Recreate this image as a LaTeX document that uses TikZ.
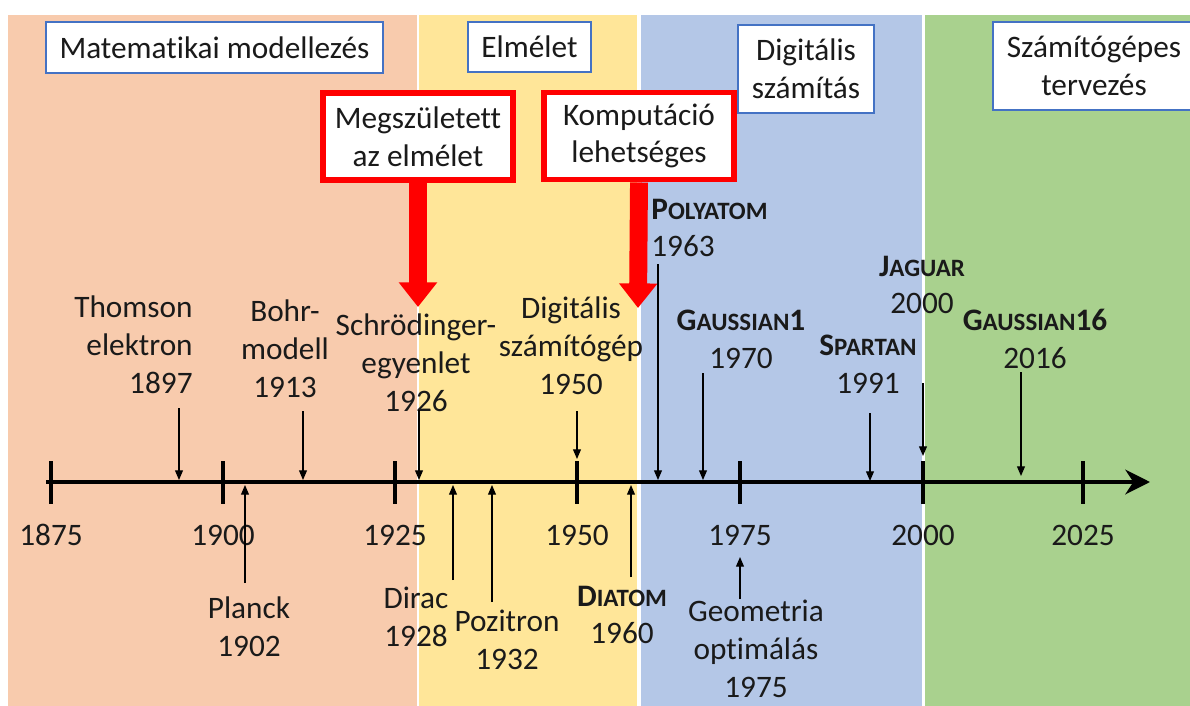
\documentclass[tikz,border=0pt]{standalone}
\usepackage{fontspec}
\setmainfont{Carlito}[Ligatures={NoCommon}]
\usetikzlibrary{positioning, arrows.meta}
\definecolor{pSalmon}{HTML}{F8CBAD}
\definecolor{pYellow}{HTML}{FFE699}
\definecolor{pBlue}{HTML}{B4C7E7}
\definecolor{pGreen}{HTML}{A9D18E}
\definecolor{bLine}{HTML}{4472C4}
\definecolor{tInk}{HTML}{1A1A1A}
\newcommand{\progname}[3]{\textbf{#1{\fontsize{14.2}{16}\selectfont #2}#3}}

\begin{document}
\begin{tikzpicture}[x=0.02cm, y=-0.02cm, >=Stealth,
    every node/.style={font=\fontsize{17.8}{21.5}\selectfont, text=tInk},
    phasebox/.style={draw=bLine, line width=0.8pt, fill=white, align=center, inner sep=0pt},
    redbox/.style={draw=red, line width=3.4pt, fill=white, align=center, inner sep=0pt,
      minimum width=3.8cm, minimum height=1.74cm},
    redarrow/.style={red, line width=10.2pt, -{Triangle[width=21pt,length=14pt]}},
    evarrow/.style={line width=0.7pt, -{Triangle[width=4.5pt,length=5.5pt]}},
    evtext/.style={align=center, inner sep=0pt},
    tickmark/.style={line width=2.8pt},
    axisline/.style={line width=2.8pt, -{Stealth[width=14pt,length=14pt,inset=4.5pt]}}]
  \clip (0,0) rectangle (1190,706);
  \fill[white] (0,0) rectangle (1190,706);
  % phases
  \fill[pSalmon] (8,15) rectangle (417,706);
  \fill[pYellow] (419,15) rectangle (637,706);
  \fill[pBlue] (641,15) rectangle (922,706);
  \fill[pGreen] (925,15) rectangle (1190,706);
  \node[phasebox, minimum width=6.74cm, minimum height=1.02cm] (mat) at (214.5,47.5) {Matematikai modellezés};
  \node[phasebox, minimum width=2.46cm, minimum height=1.0cm] (elm) at (529.5,47) {Elmélet};
  \node[phasebox, minimum width=2.72cm, minimum height=1.76cm] (dig) at (806,69) {Digitális\\számítás};
  \node[phasebox, minimum width=4.04cm, minimum height=1.76cm] (szt) at (1094,66) {Számítógépes\\tervezés};

  % milestones
  \node[redbox] (theory) at (418,136.5) {Megszületett\\az elmélet};
  \node[redbox] (comput) at (639,136) {Komputáció\\lehetséges};
  \coordinate (theoryTip) at (418,307);
  \coordinate (computTip) at (638,308);
  \draw[redarrow] (theory.south) -- (theoryTip);
  \draw[redarrow] (comput.south) -- (computTip);

  % axis
  \coordinate (axL) at (46,482);
  \coordinate (axR) at (1150,482);
  \draw[axisline] (axL) -- (axR);
  \foreach \yr/\x in {1875/51, 1900/223, 1925/395, 1950/577, 1975/740, 2000/923, 2025/1083}
  {
    \coordinate (tk\yr a) at (\x,461);
    \coordinate (tk\yr b) at (\x,504);
    \draw[tickmark] (tk\yr a) -- (tk\yr b);
    \node (y\yr) at (\x,535) {\yr};
  }

  % events above the axis
  \node[evtext, align=right, anchor=east] (thomson) at (193,345) {Thomson\\elektron\\1897};
  \node[evtext] (bohr) at (285,349) {Bohr-\\modell\\1913};
  \node[evtext] (schr) at (416,363) {Schrödinger-\\egyenlet\\1926};
  \node[evtext] (digit) at (571,346) {Digitális\\számítógép\\1950};
  \node[evtext, align=left, anchor=west] (poly) at (651,228) {\progname{P}{OLYATOM}{}\\1963};
  \node[evtext] (gauss1) at (741,339) {\progname{G}{AUSSIAN}{1}\\1970};
  \node[evtext] (spartan) at (868,364) {\progname{S}{PARTAN}{}\\1991};
  \node[evtext] (jaguar) at (922,285) {\progname{J}{AGUAR}{}\\2000};
  \node[evtext] (gauss16) at (1035,339) {\progname{G}{AUSSIAN}{16}\\2016};
  \foreach \nm/\x/\ya/\yb in {thomson/179/408/480, bohr/303/411/480, schr/419/410/480,
      digit/577/411/459, poly/658/264/480, gauss1/703/373/480, spartan/870/413/481,
      jaguar/923/383/456, gauss16/1021/372/476}
  {
    \coordinate (\nm-s) at (\x,\ya);
    \coordinate (\nm-e) at (\x,\yb);
    \draw[evarrow] (\nm-s) -- (\nm-e);
  }

  % events below the axis
  \node[evtext] (planck) at (249,627) {Planck\\1902};
  \node[evtext] (dirac) at (416,617) {Dirac\\1928};
  \node[evtext] (pozitron) at (507,640) {Pozitron\\1932};
  \node[evtext] (diatom) at (622,615) {\progname{D}{IATOM}{}\\1960};
  \node[evtext] (geom) at (756,649) {Geometria\\optimálás\\1975};
  \foreach \nm/\x/\ya/\yb in {planck/245/583/485, dirac/453/580/485, pozitron/492/602/485,
      diatom/631/577/485, geom/740/599/557}
  {
    \coordinate (\nm-s) at (\x,\ya);
    \coordinate (\nm-e) at (\x,\yb);
    \draw[evarrow] (\nm-s) -- (\nm-e);
  }
\end{tikzpicture}
\end{document}
